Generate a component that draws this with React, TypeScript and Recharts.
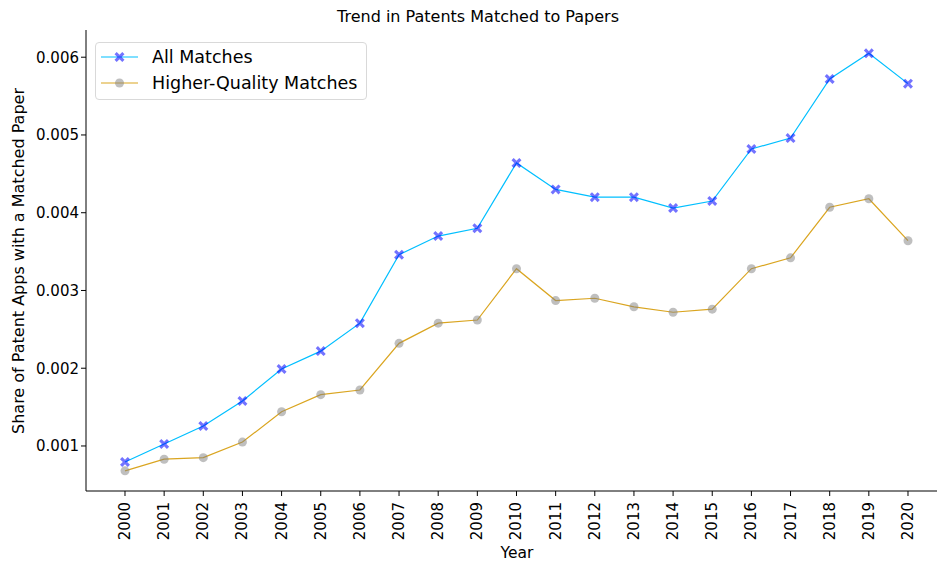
import React from 'react';
import { LineChart, Line, XAxis, YAxis, Label } from 'recharts';

const years = [2000, 2001, 2002, 2003, 2004, 2005, 2006, 2007, 2008, 2009, 2010, 2011, 2012, 2013, 2014, 2015, 2016, 2017, 2018, 2019, 2020];
const allMatches = [0.000794, 0.001026, 0.001257, 0.001578, 0.00199, 0.00222, 0.00258, 0.00346, 0.0037, 0.0038, 0.00464, 0.0043, 0.0042, 0.0042, 0.00406, 0.00415, 0.00482, 0.00496, 0.00572, 0.00605, 0.00566];
const higherQuality = [0.00068, 0.00083, 0.00085, 0.00105, 0.00144, 0.00166, 0.00172, 0.00232, 0.00258, 0.00262, 0.00328, 0.00287, 0.0029, 0.00279, 0.00272, 0.00276, 0.00328, 0.00342, 0.00407, 0.00418, 0.00364];
const yTicks = [0.001, 0.002, 0.003, 0.004, 0.005, 0.006];

const data = years.map((y, i) => ({ year: y, all: allMatches[i], hq: higherQuality[i] }));

const FONT = 'DejaVu Sans, sans-serif';

const XMark = (props: any) => {
  const { cx, cy } = props;
  if (cx == null || cy == null) return null;
  const s = 5, w = 2.2;
  const d = `M${cx - s},${cy - s + w} L${cx - s + w},${cy - s} L${cx},${cy - w} L${cx + s - w},${cy - s} L${cx + s},${cy - s + w} L${cx + w},${cy} L${cx + s},${cy + s - w} L${cx + s - w},${cy + s} L${cx},${cy + w} L${cx - s + w},${cy + s} L${cx - s},${cy + s - w} L${cx - w},${cy} Z`;
  return <path d={d} fill="#0000ff" fillOpacity={0.55} stroke="none" />;
};

const CircleMark = (props: any) => {
  const { cx, cy } = props;
  if (cx == null || cy == null) return null;
  return <circle cx={cx} cy={cy} r={4.5} fill="#808080" fillOpacity={0.5} stroke="none" />;
};

const YearTick = (props: any) => {
  const { x, y, payload } = props;
  return (
    <text x={x} y={y + 4} transform={`rotate(-90, ${x}, ${y + 4})`} textAnchor="end" dominantBaseline="central" fontSize={15} fontFamily={FONT} fill="#000">
      {payload.value}
    </text>
  );
};

const YLabel = () => (
  <text x={18} y={261} transform="rotate(-90, 18, 261)" textAnchor="middle" dominantBaseline="central" fontSize={16} fontFamily={FONT} fill="#000">
    Share of Patent Apps with a Matched Paper
  </text>
);

const XLabel = () => (
  <text x={517} y={553} textAnchor="middle" dominantBaseline="central" fontSize={15.5} fontFamily={FONT} fill="#000">
    Year
  </text>
);

const LegendBox = () => (
  <div style={{ position: 'absolute', left: 95, top: 42, width: 272, height: 58, border: '1px solid #d9d9d9', borderRadius: 4, background: 'rgba(255,255,255,0.8)', boxSizing: 'border-box' }}>
    <svg width={272} height={58} style={{ position: 'absolute', left: 0, top: 0 }}>
      <line x1={5} x2={42} y1={14} y2={14} stroke="#00bfff" strokeWidth={1.2} />
      <XMark cx={23.5} cy={14} />
      <line x1={5} x2={42} y1={40} y2={40} stroke="#daa520" strokeWidth={1.2} />
      <CircleMark cx={23.5} cy={40} />
      <text x={56} y={14} dominantBaseline="central" fontSize={17.5} fontFamily={FONT}>All Matches</text>
      <text x={56} y={40} dominantBaseline="central" fontSize={17.5} fontFamily={FONT}>Higher-Quality Matches</text>
    </svg>
  </div>
);

export default function App() {
  return (
    <div style={{ position: 'absolute', left: 0, top: 0, width: 938, height: 563, background: '#fff' }}>
      <div style={{ position: 'absolute', left: 0, top: 7, width: 956, textAlign: 'center', fontFamily: FONT, fontSize: 16 }}>
        Trend in Patents Matched to Papers
      </div>
      <LineChart width={938} height={563} data={data} margin={{ top: 30, right: 1, bottom: 0, left: 0 }}>
        <XAxis
          dataKey="year"
          type="number"
          domain={[1999.004, 2020.741]}
          ticks={years}
          interval={0}
          allowDataOverflow
          height={72}
          stroke="#000"
          tickSize={5}
          tick={<YearTick />}
        >
          <Label content={<XLabel />} />
        </XAxis>
        <YAxis
          type="number"
          domain={[0.000421, 0.00635]}
          ticks={yTicks}
          allowDataOverflow
          width={86}
          stroke="#000"
          tickSize={5}
          tickFormatter={(v: number) => v.toFixed(3)}
          tick={{ fontFamily: FONT, fontSize: 15, fill: '#000' }}
        >
          <Label content={<YLabel />} />
        </YAxis>
        <Line dataKey="all" stroke="#00bfff" strokeWidth={1.2} dot={<XMark />} activeDot={false} isAnimationActive={false} />
        <Line dataKey="hq" stroke="#daa520" strokeWidth={1.2} dot={<CircleMark />} activeDot={false} isAnimationActive={false} />
      </LineChart>
      <LegendBox />
    </div>
  );
}
